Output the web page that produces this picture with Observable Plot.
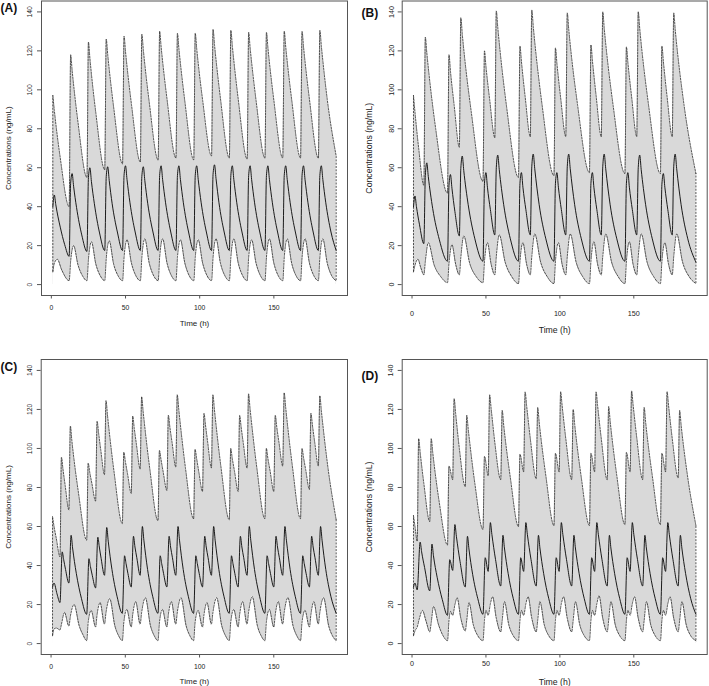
<!DOCTYPE html>
<html><head><meta charset="utf-8">
<script src="https://cdn.jsdelivr.net/npm/d3@7"></script>
<script src="https://cdn.jsdelivr.net/npm/@observablehq/plot@0.6"></script>
<style>
body{margin:0;background:#fff;}
#wrap{position:relative;width:709px;height:686px;overflow:hidden;font-family:"Liberation Sans",Arial,sans-serif;}
.panel{position:absolute;}
</style></head><body><div id="wrap"></div>
<script>
// ---------- tick labels ----------
const xTicks = [0, 50, 100, 150];
const yTicks = [0, 20, 40, 60, 80, 100, 120, 140];
const panelLabels = ["(A)", "(B)", "(C)", "(D)"];
const xTitle = "Time (h)";
const yTitle = "Concentrations (ng/mL)";

// ---------- Panel A: [time (h), concentration] ----------
const upperA = [[1,97],[2,89.5],[6,65],[12,40],[13,118],[14,110],[18,83],[24,55],[25,124.5],[26,116],[30,88],[36,59],
[37,126],[38,118],[42,91],[48,62],[49,127.5],[50,119.5],[54,92.5],[60,63],[61,128.5],[62,120.5],[66,93.5],[72,64],
[73,130],[74,122],[78,95],[84,65],[85,129],[86,121],[90,94],[96,64],[97,129],[98,121],[102,94.5],[108,66],
[109,131],[110,123],[114,95.5],[120,65],[121,130.5],[122,122.5],[126,95],[132,64.5],[133,129.5],[134,121.5],[138,94.5],[144,65],
[145,129.5],[146,121.5],[150,94.5],[156,65],[157,130],[158,122],[162,95],[168,65],[169,130],[170,122],[174,95],[180,65],
[181,130.5],[182,122.5],[186,95],[192,66]];
const medianA = [[1,40],[2,46],[3,41],[6,29.5],[9,20.5],[12,14.5],[13,52],[14,57],[15,50.5],[17,39.5],[20.5,25.5],[24,17],
[25,55],[26,60],[27,53],[29,41.5],[32.5,26.5],[36,17.5],[37,55.5],[38,60.5],[39,53.5],[41,41.5],[44.5,27],[48,17.5],
[49,56],[50,61],[51,54],[53,42],[56.5,27],[60,17.5],[61,55.5],[62,60.5],[63,53.5],[65,41.5],[68.5,27],[72,17.5],
[73,56],[74,61],[75,54],[77,42],[80.5,27],[84,17.5],[85,56],[86,61],[87,54],[89,42],[92.5,27],[96,17.5],
[97,56],[98,61],[99,54],[101,42],[104.5,27],[108,17.5],[109,56.5],[110,61.5],[111,54.5],[113,42],[116.5,27],[120,17.5],
[121,56],[122,61],[123,54],[125,42],[128.5,27],[132,17.5],[133,56],[134,61],[135,54],[137,42],[140.5,27],[144,17.5],
[145,56],[146,61],[147,54],[149,42],[152.5,27],[156,17.5],[157,56],[158,61],[159,54],[161,42],[164.5,27],[168,17.5],
[169,56],[170,61],[171,54],[173,42],[176.5,27],[180,17.5],[181,56],[182,61],[183,54],[185,42],[188.5,27],[192,17.5]];
const lowerA = [[1,6.5],[2,11],[4,13],[7,7.5],[12,2],[13,12],[15,20],[18,10],[21,4.5],[24,2],[25,13],[27,22],[30,10.5],[33,4.5],[36,2],
[37,13.5],[39,22.5],[42,10.5],[45,4.5],[48,2],[49,14],[51,23],[54,11],[57,4.5],[60,2],[61,14],[63,23.5],[66,11],[69,4.5],[72,2],
[73,14],[75,23.5],[78,11],[81,4.5],[84,2],[85,14],[87,23],[90,11],[93,4.5],[96,2],[97,14],[99,23],[102,11],[105,4.5],[108,2],
[109,14],[111,23.5],[114,11],[117,4.5],[120,2],[121,14],[123,23.5],[126,11],[129,4.5],[132,2],[133,14],[135,23],[138,11],[141,4.5],[144,2],
[145,14],[147,23.5],[150,11],[153,4.5],[156,2],[157,14],[159,23.5],[162,11],[165,4.5],[168,2],[169,14],[171,23.5],[174,11],[177,4.5],[180,2],
[181,14],[183,23.5],[186,11],[189,4.5],[192,2]];

// ---------- Panel B ----------
const upperB = [[1,97],[2,88.5],[4.5,70],[8,51],[9,127],[10,119],[16,80],[24,47],[25,118],[26,109.5],[28.5,92],[32,70.5],
[33,137],[34,128.5],[40,89],[48,53],[49,120],[50,112],[52.5,95],[56,75.5],[57,140.5],[58,132],[64,91],[72,55],
[73,122.5],[74,114.5],[76.5,96.5],[80,76],[81,141],[82,132.5],[88,92],[96,56],
[97,121.5],[98,113.5],[100.5,96],[104,76],[105,139.5],[106,131],[112,92],[120,57.5],
[121,123],[122,115],[124.5,97],[128,76],[129,140],[130,131.5],[136,92],[144,57],
[145,122],[146,114],[148.5,96.5],[152,76],[153,140],[154,131.5],[160,92],[168,57],
[169,122.5],[170,114.5],[172.5,96.5],[176,76],[177,139.5],[178,131],[184,92],[192,57]];
const medianB = [[1,40],[2,45.5],[3,40],[5,31],[8,21],[9,56],[10,62.5],[11,55.5],[14,39],[18.5,23],[24,12],
[25,51],[26,56.5],[27,49.5],[29,37.5],[32,25],[33,59.5],[34,66],[35,58.5],[38,41],[42.5,23.5],[48,12],
[49,52],[50,57.5],[51,50],[53,38.5],[56,25.5],[57,60],[58,66.5],[59,59],[62,41],[66.5,23.5],[72,12],
[73,52],[74,57.5],[75,50],[77,38.5],[80,25.5],[81,60.5],[82,67],[83,59.5],[86,41],[90.5,23.5],[96,12],
[97,52],[98,57.5],[99,50],[101,38.5],[104,25.5],[105,60.5],[106,67],[107,59.5],[110,41],[114.5,23.5],[120,12],
[121,52],[122,57.5],[123,50],[125,38.5],[128,25.5],[129,60.5],[130,67],[131,59.5],[134,41],[138.5,23.5],[144,12],
[145,52],[146,57.5],[147,50],[149,38.5],[152,25.5],[153,60],[154,66.5],[155,59],[158,41],[162.5,23.5],[168,12],
[169,51.5],[170,57],[171,50],[173,38.5],[176,25.5],[177,60.5],[178,67],[179,59.5],[182,41],[186.5,23.5],[192,11.5]];
const lowerB = [[1,6.5],[2,10],[4,13],[6,8.5],[8,5],[9,12],[11,21.5],[15,10],[19.5,4],[24,1],[25,11],[27,20.5],[29.5,10.5],[32,5],
[33,14],[35,25],[39,11],[43.5,4],[48,1],[49,12],[51,21.5],[53.5,10.5],[56,5],[57,14.5],[59,25.5],[63,11.5],[67.5,4],[72,0.5],
[73,12],[75,21.5],[77.5,10.5],[80,5],[81,14.5],[83,26],[87,11.5],[91.5,4],[96,0.5],[97,12],[99,21.5],[101.5,10.5],[104,5],
[105,14.5],[107,26],[111,11.5],[115.5,4],[120,0.5],[121,12],[123,22],[125.5,10.5],[128,5],[129,14.5],[131,26],[135,11.5],[139.5,4],[144,0.5],
[145,12],[147,22],[149.5,10.5],[152,5],[153,14.5],[155,26],[159,11.5],[163.5,4],[168,0.5],[169,12],[171,21.5],[173.5,10.5],[176,5],
[177,14.5],[179,26],[183,11.5],[187.5,4],[192,0.5]];

// ---------- Panel C ----------
const upperC = [[1,65],[2,60],[3.5,54],[6,44.5],[7,95.5],[8,89.5],[9.5,81],[12,68.5],[13,111.5],[14,104],[18.5,77],[24,53],
[25,92.5],[26,88],[27.5,82],[30,73],[31,114],[32,108],[33.5,99],[36,86.5],[37,124.5],[38,117],[42.5,87.5],[48,61.5],
[49,98],[50,93.5],[51.5,87],[54,77],[55,116.5],[56,110.5],[57.5,102],[60,89.5],[61,126.5],[62,119],[66.5,89.5],[72,63],
[73,99],[74,94.5],[75.5,88],[78,78.5],[79,117],[80,111],[81.5,103],[84,90.5],[85,127.5],[86,120],[90.5,90],[96,64],
[97,99.5],[98,95],[99.5,88],[102,78],[103,118],[104,112],[105.5,103],[108,90],[109,127.5],[110,120],[114.5,90],[120,63.5],
[121,100],[122,95],[123.5,88.5],[126,78],[127,117],[128,111],[129.5,102.5],[132,90],[133,128],[134,120.5],[138.5,90.5],[144,64],
[145,100],[146,95],[147.5,88.5],[150,78],[151,117],[152,111],[153.5,103],[156,91],[157,128.5],[158,121],[162.5,91],[168,64],
[169,100],[170,95.5],[171.5,89],[174,79],[175,118],[176,112],[177.5,103.5],[180,91],[181,127],[182,119.5],[186.5,90],[192,63.5]];
const medianC = [[1,29],[2,31],[4,25.5],[6,21],[7.5,47],[8.5,43],[9.75,38],[12,31],[13.5,55.5],[14.5,49],[17,36],[20.5,23],[24,15],
[25.5,43.5],[26.5,39.5],[27.75,35],[30,28.5],[31.5,54.5],[32.5,49.5],[33.75,43.5],[36,35],[37.5,59.5],[38.5,52.5],[41,38],[44.5,24],[48,15.5],
[49.5,45],[50.5,41],[51.75,36],[54,29],[55.5,55],[56.5,49.5],[57.75,44],[60,35],[61.5,60],[62.5,53],[65,38],[68.5,24],[72,15.5],
[73.5,45],[74.5,41],[75.75,36],[78,29],[79.5,55],[80.5,49.5],[81.75,44],[84,35],[85.5,60],[86.5,53],[89,38],[92.5,24],[96,15.5],
[97.5,45],[98.5,41],[99.75,36],[102,29],[103.5,55],[104.5,49.5],[105.75,44],[108,35],[109.5,60],[110.5,53],[113,38],[116.5,24],[120,15.5],
[121.5,45],[122.5,41],[123.75,36],[126,29],[127.5,55],[128.5,49.5],[129.75,44],[132,35],[133.5,60],[134.5,53],[137,38],[140.5,24],[144,15.5],
[145.5,45],[146.5,41],[147.75,36],[150,29],[151.5,55],[152.5,49.5],[153.75,44],[156,35],[157.5,60],[158.5,53],[161,38],[164.5,24],[168,15.5],
[169.5,45],[170.5,41],[171.75,36],[174,29],[175.5,55],[176.5,49.5],[177.75,44],[180,35],[181.5,60],[182.5,53],[185,38],[188.5,24],[192,15.5]];
const lowerC = [[1,4],[2,7.5],[3.5,8],[6,7],[7,10],[9,16],[12,9],[13,14],[15.5,20],[19,9],[21.5,4.5],[24,1.5],
[25,11],[27,17],[30,8.5],[31,15],[33,21],[36,10],[37,16],[39.5,23],[43,9],[45.5,4],[48,1.5],
[49,11],[51,17.5],[54,8.5],[55,15],[57,21.5],[60,10],[61,16],[63.5,23.5],[67,9],[69.5,4],[72,1.5],
[73,11],[75,17.5],[78,8.5],[79,15],[81,21.5],[84,10],[85,16],[87.5,23.5],[91,9],[93.5,4],[96,1.5],
[97,11],[99,17],[102,8.5],[103,15],[105,21],[108,10],[109,16],[111.5,23.5],[115,9],[117.5,4],[120,1.5],
[121,11],[123,17.5],[126,8.5],[127,15],[129,21.5],[132,10],[133,16],[135.5,24],[139,9],[141.5,4],[144,1.5],
[145,11],[147,17.5],[150,8.5],[151,15],[153,21.5],[156,10],[157,16],[159.5,23.5],[163,9],[165.5,4],[168,1.5],
[169,11],[171,17],[174,8.5],[175,15],[177,21.5],[180,10],[181,16],[183.5,23.5],[187,9],[189.5,4],[192,1.5]];

// ---------- Panel D ----------
const upperD = [[1,65.5],[2,60],[3.5,52.5],[4.5,105],[5.5,98],[8,82],[12,62.5],[13,105],[14,98],[18.5,72],[24,50.5],
[25,91],[27.5,84],[28.5,125.5],[29.5,118],[32,100],[36,80.5],[37,117],[38,110],[42.5,82],[48,58.5],
[49,96],[51.5,86],[52.5,127.5],[53.5,120.5],[56,103],[60,84],[61,119.5],[62,112],[66.5,85],[72,60],
[73,97],[75.5,88],[76.5,129],[77.5,122],[80,105],[84,84.5],[85,121],[86,113.5],[90.5,86],[96,60.5],
[97,97.5],[99.5,88],[100.5,129],[101.5,122],[104,105],[108,84],[109,120],[110,112.5],[114.5,85],[120,60.5],
[121,97.5],[123.5,88],[124.5,129],[125.5,122],[128,105],[132,84],[133,121.5],[134,114],[138.5,86],[144,61],
[145,98],[147.5,88],[148.5,129.5],[149.5,122.5],[152,105.5],[156,84],[157,121],[158,113.5],[162.5,86],[168,61],
[169,97.5],[171.5,88],[172.5,129],[173.5,122],[176,105],[180,85],[181,119.5],[182,112],[186.5,85],[192,60.5]];
const medianD = [[1,29],[2,31],[3.5,27.5],[5.5,52],[6.5,47],[8.5,39],[12,27],[13.5,51],[14.5,45],[17,34],[20.5,22.5],[24,14.5],
[25.5,43],[27.5,37.5],[29,61],[30,55],[32.5,42],[36,29],[37.5,55],[38.5,48.5],[41,35.5],[44.5,23],[48,15],
[49.5,44],[51.5,37],[53,62],[54,56],[56.5,43],[60,29.5],[61.5,55.5],[62.5,49],[65,36],[68.5,23],[72,15],
[73.5,44],[75.5,37],[77,62],[78,56],[80.5,43],[84,29.5],[85.5,55.5],[86.5,49],[89,36],[92.5,23],[96,15],
[97.5,44],[99.5,37],[101,62],[102,56],[104.5,43],[108,29.5],[109.5,55.5],[110.5,49],[113,36],[116.5,23],[120,15],
[121.5,44],[123.5,37],[125,62],[126,56],[128.5,43],[132,29.5],[133.5,55.5],[134.5,49],[137,36],[140.5,23],[144,15],
[145.5,44],[147.5,37],[149,62],[150,56],[152.5,43],[156,29.5],[157.5,55.5],[158.5,49],[161,36],[164.5,23],[168,15],
[169.5,44],[171.5,37],[173,62],[174,56],[176.5,43],[180,29.5],[181.5,55.5],[182.5,49],[185,36],[188.5,23],[192,15]];
const lowerD = [[1,4],[2,6.5],[3.5,8.5],[5,13],[7,17],[9.5,11.5],[12,6],[13,11],[14.5,19],[18,9.5],[21,4],[24,1.5],
[25,12],[26,16.5],[27.5,14.5],[29,20],[30.5,23.5],[33,13],[36,6.5],[37,12],[38.5,21],[41.5,9.5],[44.5,4],[48,1.5],
[49,12],[50,17],[51.5,14.5],[53,20.5],[54.5,24],[57,13],[60,6],[61,12],[62.5,21.5],[65.5,9.5],[68.5,4],[72,1.5],
[73,12],[74,17],[75.5,14.5],[77,20.5],[78.5,24],[81,13],[84,6],[85,12],[86.5,21.5],[89.5,9.5],[92.5,4],[96,1.5],
[97,12],[98,17],[99.5,14.5],[101,20.5],[102.5,24],[105,13],[108,6],[109,12],[110.5,21.5],[113.5,9.5],[116.5,4],[120,1.5],
[121,12],[122,17],[123.5,14.5],[125,20.5],[126.5,24.5],[129,13],[132,6],[133,12],[134.5,21.5],[137.5,9.5],[140.5,4],[144,1.5],
[145,12],[146,17],[147.5,14.5],[149,20.5],[150.5,24],[153,13],[156,6],[157,12],[158.5,21.5],[161.5,9.5],[164.5,4],[168,1.5],
[169,12],[170,17],[171.5,14.5],[173,20.5],[174.5,24],[177,13],[180,6],[181,12],[182.5,21.5],[185.5,9.5],[188.5,4],[192,1.5]];

// ---------- layout ----------
const panels = [
  {label: panelLabels[0], up: upperA, md: medianA, lo: lowerA, left: 0, top: 0, width: 354, height: 340,
   mL: 41, mR: 7, mT: 0.5, mB: 45, yTickDx: -12, xTickDy: 12, xTitleDy: 28, yTitleDx: -32.7,
   tickFont: 6.8, titleFont: 8, labX: -41, labY: 7.5},
  {label: panelLabels[1], up: upperB, md: medianB, lo: lowerB, left: 354, top: 0, width: 355, height: 340,
   mL: 47.7, mR: 2.3, mT: 0.5, mB: 45, yTickDx: -10.4, xTickDy: 18, xTitleDy: 35, yTitleDx: -32.7,
   tickFont: 7.2, titleFont: 8.7, labX: -40.7, labY: 12},
  {label: panelLabels[2], up: upperC, md: medianC, lo: lowerC, left: 0, top: 340, width: 354, height: 346,
   mL: 40.7, mR: 7, mT: 19, mB: 32, yTickDx: -11.7, xTickDy: 12, xTitleDy: 27, yTitleDx: -32.4,
   tickFont: 6.8, titleFont: 8, labX: -40.7, labY: 8},
  {label: panelLabels[3], up: upperD, md: medianD, lo: lowerD, left: 354, top: 340, width: 355, height: 346,
   mL: 47.7, mR: 2.3, mT: 19, mB: 32, yTickDx: -11.7, xTickDy: 9, xTitleDy: 27.7, yTitleDx: -32.7,
   tickFont: 7.2, titleFont: 8.7, labX: -40.7, labY: 17}
];

const fx = d => d[0], fy = d => d[1];
const curve = "monotone-x";
const dash = {stroke: "#333", strokeWidth: 0.85, strokeDasharray: "2,1.3"};
const wrap = document.getElementById("wrap");

for (const p of panels) {
  const n = p.up.length, m = p.lo.length;
  const edges = [
    {x: p.up[0][0], y1: p.lo[0][1], y2: p.up[0][1]},
    {x: p.up[n - 1][0], y1: p.lo[m - 1][1], y2: p.up[n - 1][1]}
  ];
  const chart = Plot.plot({
    width: p.width, height: p.height,
    marginLeft: p.mL, marginRight: p.mR, marginTop: p.mT, marginBottom: p.mB,
    x: {domain: [-6.64, 199.64]},
    y: {domain: [-5.6, 145.6]},
    style: {fontFamily: '"Liberation Sans", Arial, sans-serif', background: "transparent", overflow: "visible"},
    marks: [
      Plot.areaY(p.up, {x: fx, y: fy, fill: "#d9d9d9", curve}),
      Plot.areaY(p.lo, {x: fx, y: fy, fill: "#ffffff", curve}),
      Plot.line(p.md, {x: fx, y: fy, stroke: "#111", strokeWidth: 0.95, curve}),
      Plot.line(p.up, {x: fx, y: fy, ...dash, curve}),
      Plot.line(p.lo, {x: fx, y: fy, ...dash, curve}),
      Plot.ruleX(edges, {x: "x", y1: "y1", y2: "y2", ...dash}),
      Plot.frame({stroke: "#555", strokeWidth: 1}),
      Plot.axisX({ticks: xTicks, tickSize: 3.5, tickFormat: () => "", label: null, stroke: "#555"}),
      Plot.axisY({ticks: yTicks, tickSize: 4, tickFormat: () => "", label: null, stroke: "#555"}),
      Plot.text(xTicks, {x: d => d, text: d => String(d), frameAnchor: "bottom", dy: p.xTickDy,
        lineAnchor: "middle", fontSize: p.tickFont, fill: "#222"}),
      Plot.text(yTicks, {y: d => d, text: d => String(d), frameAnchor: "left", dx: p.yTickDx,
        rotate: -90, textAnchor: "middle", lineAnchor: "middle", fontSize: p.tickFont, fill: "#222"}),
      Plot.text([xTitle], {text: d => d, frameAnchor: "bottom", dy: p.xTitleDy, lineAnchor: "middle",
        fontSize: p.titleFont, fill: "#222"}),
      Plot.text([yTitle], {text: d => d, frameAnchor: "left", dx: p.yTitleDx, rotate: -90,
        textAnchor: "middle", lineAnchor: "middle", fontSize: p.titleFont, fill: "#222"}),
      Plot.text([p.label], {text: d => d, frameAnchor: "top-left", dx: p.labX, dy: p.labY,
        textAnchor: "start", lineAnchor: "middle", fontSize: 12, fontWeight: "bold", fill: "#111"})
    ]
  });
  const div = document.createElement("div");
  div.className = "panel";
  div.style.left = p.left + "px";
  div.style.top = p.top + "px";
  div.appendChild(chart);
  wrap.appendChild(div);
}
</script></body></html>
